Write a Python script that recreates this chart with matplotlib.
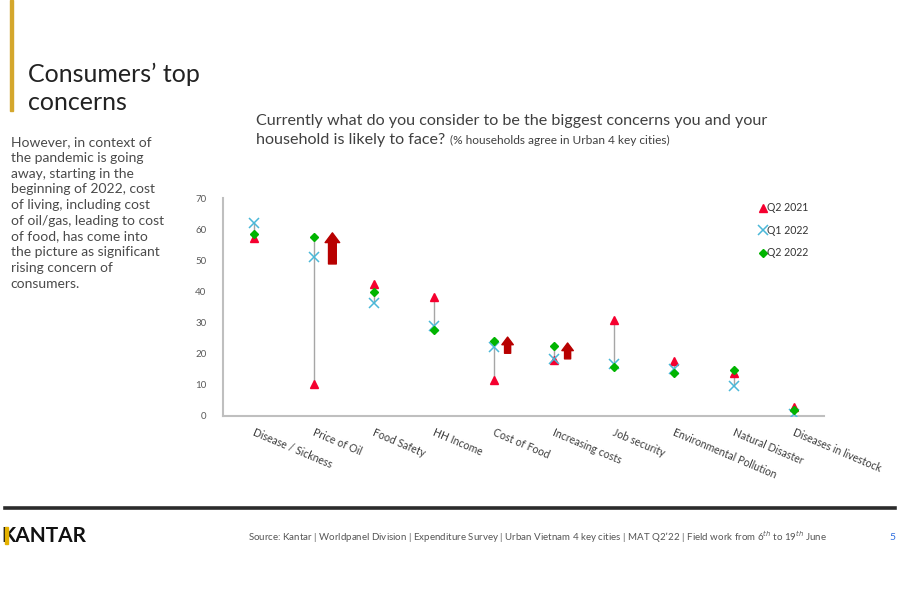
import numpy as np
import matplotlib
matplotlib.use('Agg')
import matplotlib.pyplot as plt
from matplotlib.patches import Rectangle

# --- данные ---
categories = ['Disease / Sickness', 'Price of Oil', 'Food Safety', 'HH Income', 'Cost of Food',
              'Increasing costs', 'Job security', 'Environmental Pollution', 'Natural Disaster',
              'Diseases in livestock']
q2_2021 = [57.0, 10.1, 42.3, 38.1, 11.5, 17.8, 30.8, 17.6, 13.6, 2.9]
q1_2022 = [61.9, 50.9, 36.1, 28.9, 22.2, 18.2, 16.6, 15.2, 9.5, 0.5]
q2_2022 = [58.4, 57.4, 39.9, 27.6, 24.1, 22.5, 15.7, 13.7, 14.8, 1.8]
series_labels = ['Q2 2021', 'Q1 2022', 'Q2 2022']

# стрелки роста: категория, начало, конец
arrow_cats = ['Price of Oil', 'Cost of Food', 'Increasing costs']
arrow_from = [48.8, 20.1, 18.3]
arrow_to = [58.8, 25.3, 23.4]
arrow_widths = [0.7, 0.55, 0.55]

y_ticks = [0, 10, 20, 30, 40, 50, 60, 70]

RED = '#F5002F'
CYAN = '#4BB8D8'
GREEN = '#00B400'
DARK_RED = '#B80000'
TEXT = '#3C3C3C'
FONT = 'Lato'

plt.rcParams['font.family'] = [FONT, 'DejaVu Sans']

fig = plt.figure(figsize=(9, 6), dpi=100)
fig.patch.set_facecolor('white')

# --- заголовок и текст слева ---
fig.patches.append(Rectangle((0.011, 0.815), 0.004, 0.185, transform=fig.transFigure,
                             color='#D4A72C', zorder=1))
fig.text(0.031, 0.8633, 'Consumers\u2019 top', fontsize=18, color='#222222', va='baseline')
fig.text(0.031, 0.8167, 'concerns', fontsize=18, color='#222222', va='baseline')

body = ('However, in context of\nthe pandemic is going\naway, starting in the\n'
        'beginning of 2022, cost\nof living, including cost\nof oil/gas, leading to cost\n'
        'of food, has come into\nthe picture as significant\nrising concern of\nconsumers.')
fig.text(0.012, 0.773, body, fontsize=10, color='#4A4A4A', va='top', linespacing=1.37)

fig.text(0.285, 0.798, 'Currently what do you consider to be the biggest concerns you and your',
         fontsize=11.6, color='#404040', va='center')
fig.text(0.285, 0.766, 'household is likely to face?', fontsize=11.6, color='#404040', va='center')
fig.text(0.500, 0.766, '(% households agree in Urban 4 key cities)', fontsize=8.6,
         color='#404040', va='center')

# --- график ---
ax = fig.add_axes([0.248, 0.307, 0.668, 0.363])
x = np.arange(len(categories))

lows = np.minimum(np.minimum(q2_2021, q1_2022), q2_2022)
highs = np.maximum(np.maximum(q2_2021, q1_2022), q2_2022)
ax.vlines(x, lows, highs, color='#A6A6A6', linewidth=1.0, zorder=1)

ax.plot(x, q2_2021, linestyle='none', marker='^', markersize=6, color=RED,
        label=series_labels[0], zorder=3)
ax.plot(x, q1_2022, linestyle='none', marker='x', markersize=6.5, markeredgewidth=1.1,
        color=CYAN, label=series_labels[1], zorder=4)
ax.plot(x, q2_2022, linestyle='none', marker='D', markersize=4.5, color=GREEN,
        label=series_labels[2], zorder=5)

offsets = [0.3, 0.22, 0.22]
for cat, y0, y1, w, off in zip(arrow_cats, arrow_from, arrow_to, arrow_widths, offsets):
    xi = categories.index(cat) + off
    ax.annotate('', xy=(xi, y1), xytext=(xi, y0),
                arrowprops=dict(arrowstyle=f'simple,head_width={w * 1.5},head_length={w},tail_width={w * 0.8}',
                                color=DARK_RED, shrinkA=0, shrinkB=0), zorder=6)

ax.set_xlim(-0.52, 9.5)
ax.set_ylim(0, 70)
ax.set_yticks(y_ticks)
ax.tick_params(axis='y', length=0, labelsize=7, labelcolor='#595959', pad=12)
ax.tick_params(axis='x', length=0)
ax.set_xticks(x)
ax.set_xticklabels([])
for xi, lab in zip(x, categories):
    ax.text(xi + 0.02, -3.6, lab, rotation=-23, rotation_mode='anchor', ha='left', va='top',
            fontsize=7.6, color=TEXT)

for side in ['top', 'right']:
    ax.spines[side].set_visible(False)
for side in ['left', 'bottom']:
    ax.spines[side].set_color('#BFBFBF')
    ax.spines[side].set_linewidth(1.5)

leg = ax.legend(loc='upper left', bbox_to_anchor=(0.885, 1.0), frameon=False, fontsize=7.6,
                handlelength=0.6, handletextpad=0.15, labelspacing=1.1, borderaxespad=0)
for t in leg.get_texts():
    t.set_color('#333333')

# --- подвал ---
fig.add_artist(plt.Line2D([0.006, 0.994], [0.153, 0.153], color='#2B2B2B', linewidth=2.6))
fig.text(0.0015, 0.107, 'KANTAR', fontsize=15, fontweight='bold', color='#111111', va='center')
fig.patches.append(Rectangle((0.0055, 0.094), 0.0038, 0.027, transform=fig.transFigure,
                             color='#E5B200', zorder=5))
fig.text(0.276, 0.105,
         'Source: Kantar | Worldpanel Division | Expenditure Survey | Urban Vietnam 4 key cities | '
         'MAT Q2\u201922 | Field work from 6$^{th}$ to 19$^{th}$ June',
         fontsize=7, color='#555555', va='center')
fig.text(0.988, 0.105, '5', fontsize=7.5, color='#2F6FE0', va='center')

fig.savefig('out.png', dpi=100)
plt.close(fig)
